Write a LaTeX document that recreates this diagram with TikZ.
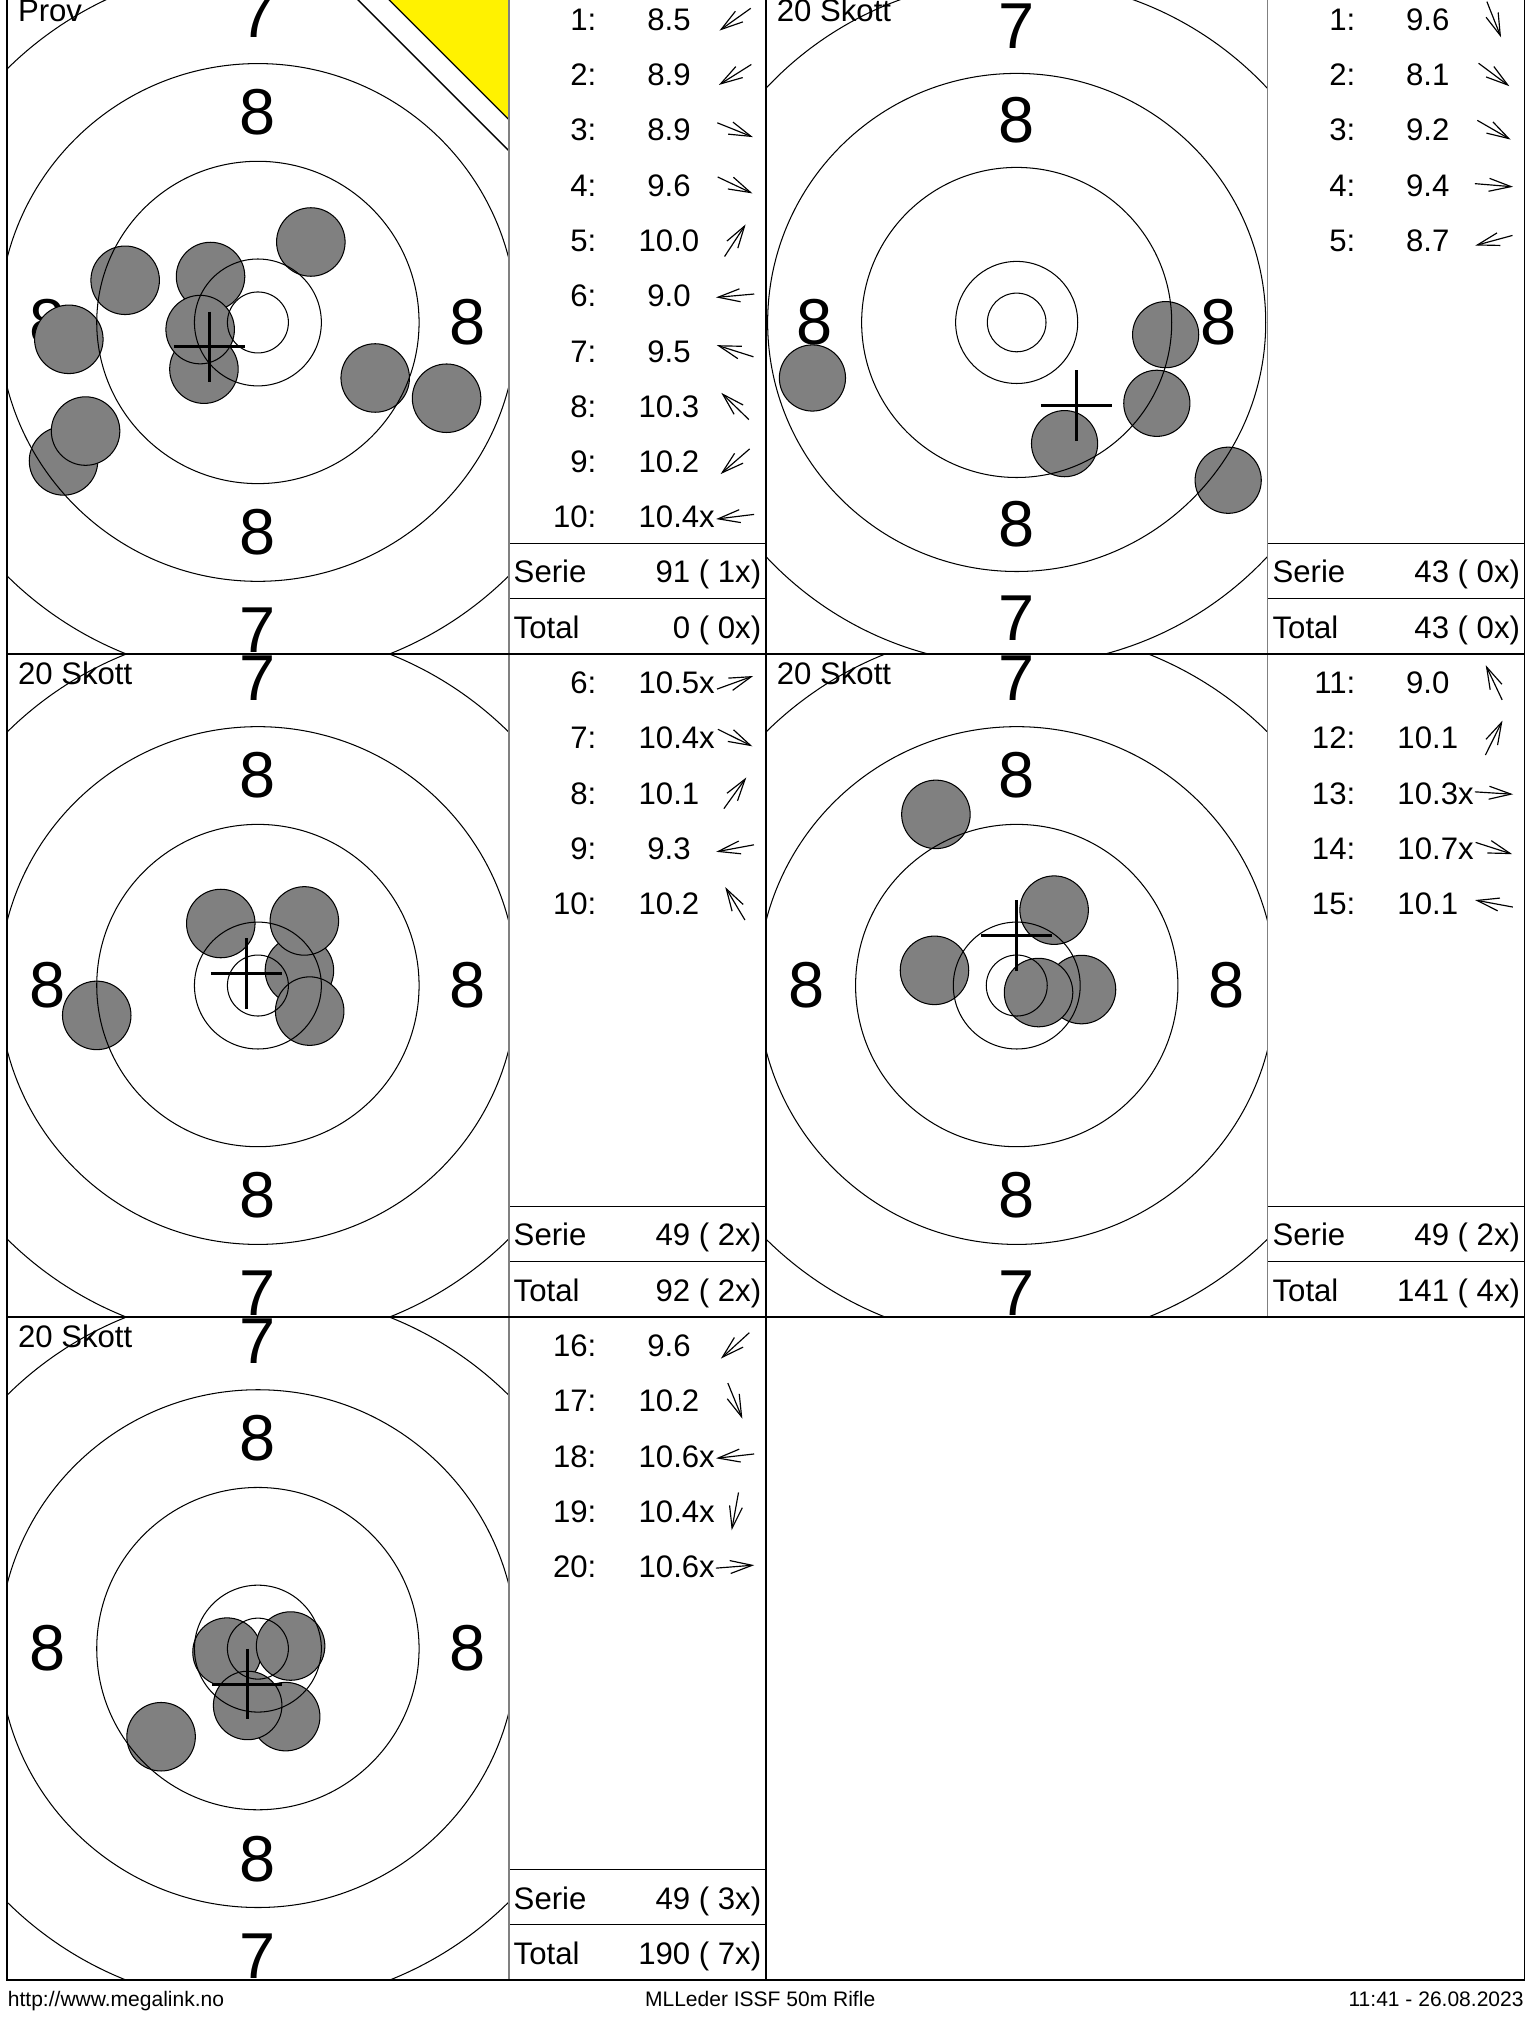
\documentclass[tikz,border=0pt]{standalone}
\usepackage{fontspec}
\setmainfont{Liberation Sans}
\usetikzlibrary{arrows.meta}

\tikzset{
  ring/.style={draw=black, line width=0.4pt},
  hit/.style={fill=black!50, draw=black, line width=0.4pt},
  crossline/.style={draw=black, line width=1.2pt},
  bignum/.style={inner sep=0pt, font=\fontsize{25}{25}\selectfont},
  listtxt/.style={inner sep=0pt, font=\fontsize{12}{12}\selectfont},
  dirarrow/.style={draw=black, line width=0.45pt, -{Straight Barb[length=8.5pt,width=5pt]}},
  framel/.style={draw=black, line width=0.6pt},
  thinl/.style={draw=black, line width=0.5pt},
  divl/.style={draw=black!50, line width=0.7pt},
  foot/.style={inner sep=0pt, font=\fontsize{8.1}{8.1}\selectfont},
}

% labels of a target: name prefix, cx, cy, scale
\newcommand\tgtlabels[4]{%
  \node[bignum] (#1-8t) at ({#2},{#3-161.9*#4}) {8};
  \node[bignum] (#1-8b) at ({#2},{#3+161.9*#4}) {8};
  \node[bignum] (#1-8l) at ({#2-161.9*#4},{#3}) {8};
  \node[bignum] (#1-8r) at ({#2+161.9*#4},{#3}) {8};
  \node[bignum] (#1-7t) at ({#2},{#3-237.1*#4}) {7};
  \node[bignum] (#1-7b) at ({#2},{#3+237.1*#4}) {7};
}
% rings: cx, cy, scale
\newcommand\tgtrings[3]{%
  \foreach \rr in {23.5,48.9,124.2,199.5,274.8}
    \draw[ring] ({#1},{#2}) circle[radius={\rr*#3}];
}
% hits: cx, cy, radius, list
\newcommand\tgthits[4]{%
  \foreach \dx/\dy in {#4}
    \draw[hit] ({#1+\dx},{#2+\dy}) circle[radius=#3];
}
\newcommand\mpi[4]{%
  \draw[crossline] ({#1+#3-27.2},{#2+#4}) -- ++(54.4,0);
  \draw[crossline] ({#1+#3},{#2+#4-27.2}) -- ++(0,54.4);
}
% shot row: name, x0, rowtop, slot, label, value, angle
\newcommand\shot[7]{%
  \node[listtxt, anchor=base east] (#1n) at ({#2+454.5},{#3+30.5+42.58*#4}) {#5};
  \node[listtxt, anchor=base] (#1v) at ({#2+510},{#3+30.5+42.58*#4}) {#6};
  \coordinate (#1c) at ({#2+561},{#3+22+42.58*#4});
  \draw[dirarrow] (#1c) ++({#7+180}:14.8) -- ++({#7}:29.6);
}
% serie / total: name, x0, rowtop, serie value, total value
\newcommand\sums[5]{%
  \draw[thinl] ({#2+386.5},{#3+425.7}) -- ({#2+584.8},{#3+425.7});
  \draw[thinl] ({#2+386.5},{#3+468.3}) -- ({#2+584.8},{#3+468.3});
  \node[listtxt, anchor=base west] (#1sl) at ({#2+390},{#3+456.2}) {Serie};
  \node[listtxt, anchor=base east] (#1sv) at ({#2+581.5},{#3+456.2}) {#4};
  \node[listtxt, anchor=base west] (#1tl) at ({#2+390},{#3+498.8}) {Total};
  \node[listtxt, anchor=base east] (#1tv) at ({#2+581.5},{#3+498.8}) {#5};
}

\begin{document}
\begin{tikzpicture}[x=0.5pt,y=-0.5pt]
\useasboundingbox (0,0) rectangle (1176,1567.5);
\clip (0,0) rectangle (1176,1567.5);
\fill[white] (0,0) rectangle (1176,1567.5);

% ---------- Panel 1 (Prov) ----------
\begin{scope}
  \clip (5.5,-7) rectangle (392,504);
  \tgtlabels{p1}{198.75}{248.5}{1}
  \tgthits{198.75}{248.5}{26.4}{-149.8/106.7, -132.8/83.7, 145.4/58.4, 90.4/42.8, 40.8/-62, -145.7/13, -102.3/-32.5, -36.5/-35.4, -41.6/36, -44.5/5.5}
  \tgtrings{198.75}{248.5}{1}
  \mpi{198.75}{248.5}{-37.5}{18.8}
  \fill[white] (269,-7) -- (392,-7) -- (392,116) -- cycle;
  \draw[thinl] (269,-7) -- (392,116);
  \fill[yellow] (293,-7) -- (392,-7) -- (392,92) -- cycle;
  \draw[thinl] (293,-7) -- (392,92);
\end{scope}
\node[listtxt, anchor=base west] (p1title) at (13.5,16.7) {Prov};

% ---------- Panel 2 (slightly smaller scale) ----------
\begin{scope}
  \clip (590.3,-7) rectangle (976.8,504);
  \tgtlabels{p2}{783.5}{248.5}{0.962}
  \tgthits{783.5}{248.5}{25.5}{36.9/93.4, 163/121.6, 108/62.3, 114.8/9.4, -157.4/42.8}
  \tgtrings{783.5}{248.5}{0.962}
  \mpi{783.5}{248.5}{45.9}{63.9}
\end{scope}
\node[listtxt, anchor=base west] (p2title) at (598.3,16.7) {20 Skott};

% ---------- Panel 3 ----------
\begin{scope}
  \clip (5.5,504) rectangle (392,1015);
  \tgtlabels{p3}{198.75}{759.5}{1}
  \tgthits{198.75}{759.5}{26.4}{32/-11.6, 39.9/19.7, 35.8/-49.8, -124.2/23, -28.6/-47.8}
  \tgtrings{198.75}{759.5}{1}
  \mpi{198.75}{759.5}{-9}{-9.3}
\end{scope}
\node[listtxt, anchor=base west] (p3title) at (13.5,527.7) {20 Skott};

% ---------- Panel 4 ----------
\begin{scope}
  \clip (590.3,504) rectangle (976.8,1015);
  \tgtlabels{p4}{783.55}{759.5}{1}
  \tgthits{783.55}{759.5}{26.4}{-62.3/-131.9, 28.8/-58.1, 49.9/3.1, 16.8/5.4, -63.4/-11.7}
  \tgtrings{783.55}{759.5}{1}
  \mpi{783.55}{759.5}{-0.1}{-38.4}
\end{scope}
\node[listtxt, anchor=base west] (p4title) at (598.3,527.7) {20 Skott};

% ---------- Panel 5 ----------
\begin{scope}
  \clip (5.5,1015) rectangle (392,1526);
  \tgtlabels{p5}{198.75}{1270.5}{1}
  \tgthits{198.75}{1270.5}{26.4}{-74.6/67.9, 21.4/52.4, -23.8/2.7, -7.9/43.8, 25.2/-2}
  \tgtrings{198.75}{1270.5}{1}
  \mpi{198.75}{1270.5}{-8.3}{27.4}
\end{scope}
\node[listtxt, anchor=base west] (p5title) at (13.5,1038.7) {20 Skott};

% ---------- Score lists ----------
\shot{a1}{5.5}{-7}{0}{1:}{8.5}{144.5}
\shot{a2}{5.5}{-7}{1}{2:}{8.9}{147.8}
\shot{a3}{5.5}{-7}{2}{3:}{8.9}{21.9}
\shot{a4}{5.5}{-7}{3}{4:}{9.6}{25.3}
\shot{a5}{5.5}{-7}{4}{5:}{10.0}{-56.7}
\shot{a6}{5.5}{-7}{5}{6:}{9.0}{174.9}
\shot{a7}{5.5}{-7}{6}{7:}{9.5}{197.6}
\shot{a8}{5.5}{-7}{7}{8:}{10.3}{224.1}
\shot{a9}{5.5}{-7}{8}{9:}{10.2}{139.1}
\shot{a10}{5.5}{-7}{9}{10:}{10.4\rlap{x}}{173.0}
\sums{a}{5.5}{-7}{91 ( 1x)}{0 ( 0x)}

\shot{b1}{590.3}{-7}{0}{1:}{9.6}{68.4}
\shot{b2}{590.3}{-7}{1}{2:}{8.1}{36.7}
\shot{b3}{590.3}{-7}{2}{3:}{9.2}{30.0}
\shot{b4}{590.3}{-7}{3}{4:}{9.4}{4.7}
\shot{b5}{590.3}{-7}{4}{5:}{8.7}{164.8}
\sums{b}{590.3}{-7}{43 ( 0x)}{43 ( 0x)}

\shot{c6}{5.5}{504}{0}{6:}{10.5\rlap{x}}{-19.9}
\shot{c7}{5.5}{504}{1}{7:}{10.4\rlap{x}}{26.3}
\shot{c8}{5.5}{504}{2}{8:}{10.1}{-54.3}
\shot{c9}{5.5}{504}{3}{9:}{9.3}{169.5}
\shot{c10}{5.5}{504}{4}{10:}{10.2}{-120.9}
\sums{c}{5.5}{504}{49 ( 2x)}{92 ( 2x)}

\shot{d11}{590.3}{504}{0}{11:}{9.0}{-115.3}
\shot{d12}{590.3}{504}{1}{12:}{10.1}{-63.6}
\shot{d13}{590.3}{504}{2}{13:}{10.3\rlap{x}}{3.6}
\shot{d14}{590.3}{504}{3}{14:}{10.7\rlap{x}}{17.8}
\shot{d15}{590.3}{504}{4}{15:}{10.1}{190.5}
\sums{d}{590.3}{504}{49 ( 2x)}{141 ( 4x)}

\shot{e16}{5.5}{1015}{0}{16:}{9.6}{137.7}
\shot{e17}{5.5}{1015}{1}{17:}{10.2}{67.8}
\shot{e18}{5.5}{1015}{2}{18:}{10.6\rlap{x}}{173.5}
\shot{e19}{5.5}{1015}{3}{19:}{10.4\rlap{x}}{100.2}
\shot{e20}{5.5}{1015}{4}{20:}{10.6\rlap{x}}{-4.5}
\sums{e}{5.5}{1015}{49 ( 3x)}{190 ( 7x)}

% ---------- Frame lines ----------
\draw[divl] (392,-7) -- (392,1526);
\draw[divl] (976.8,-7) -- (976.8,1015);
\draw[framel] (5.5,-7) rectangle (1175,1526);
\draw[framel] (5.5,504) -- (1175,504);
\draw[framel] (5.5,1015) -- (1175,1015);
\draw[framel] (590.3,-7) -- (590.3,1526);

% ---------- Footer ----------
\node[foot, anchor=base west] (fl) at (5.7,1546.4) {http://www.megalink.no};
\node[foot, anchor=base] (fm) at (585.8,1546.4) {MLLeder ISSF 50m Rifle};
\node[foot, anchor=base east] (fr) at (1174.5,1546.4) {11:41 - 26.08.2023};
\end{tikzpicture}
\end{document}
